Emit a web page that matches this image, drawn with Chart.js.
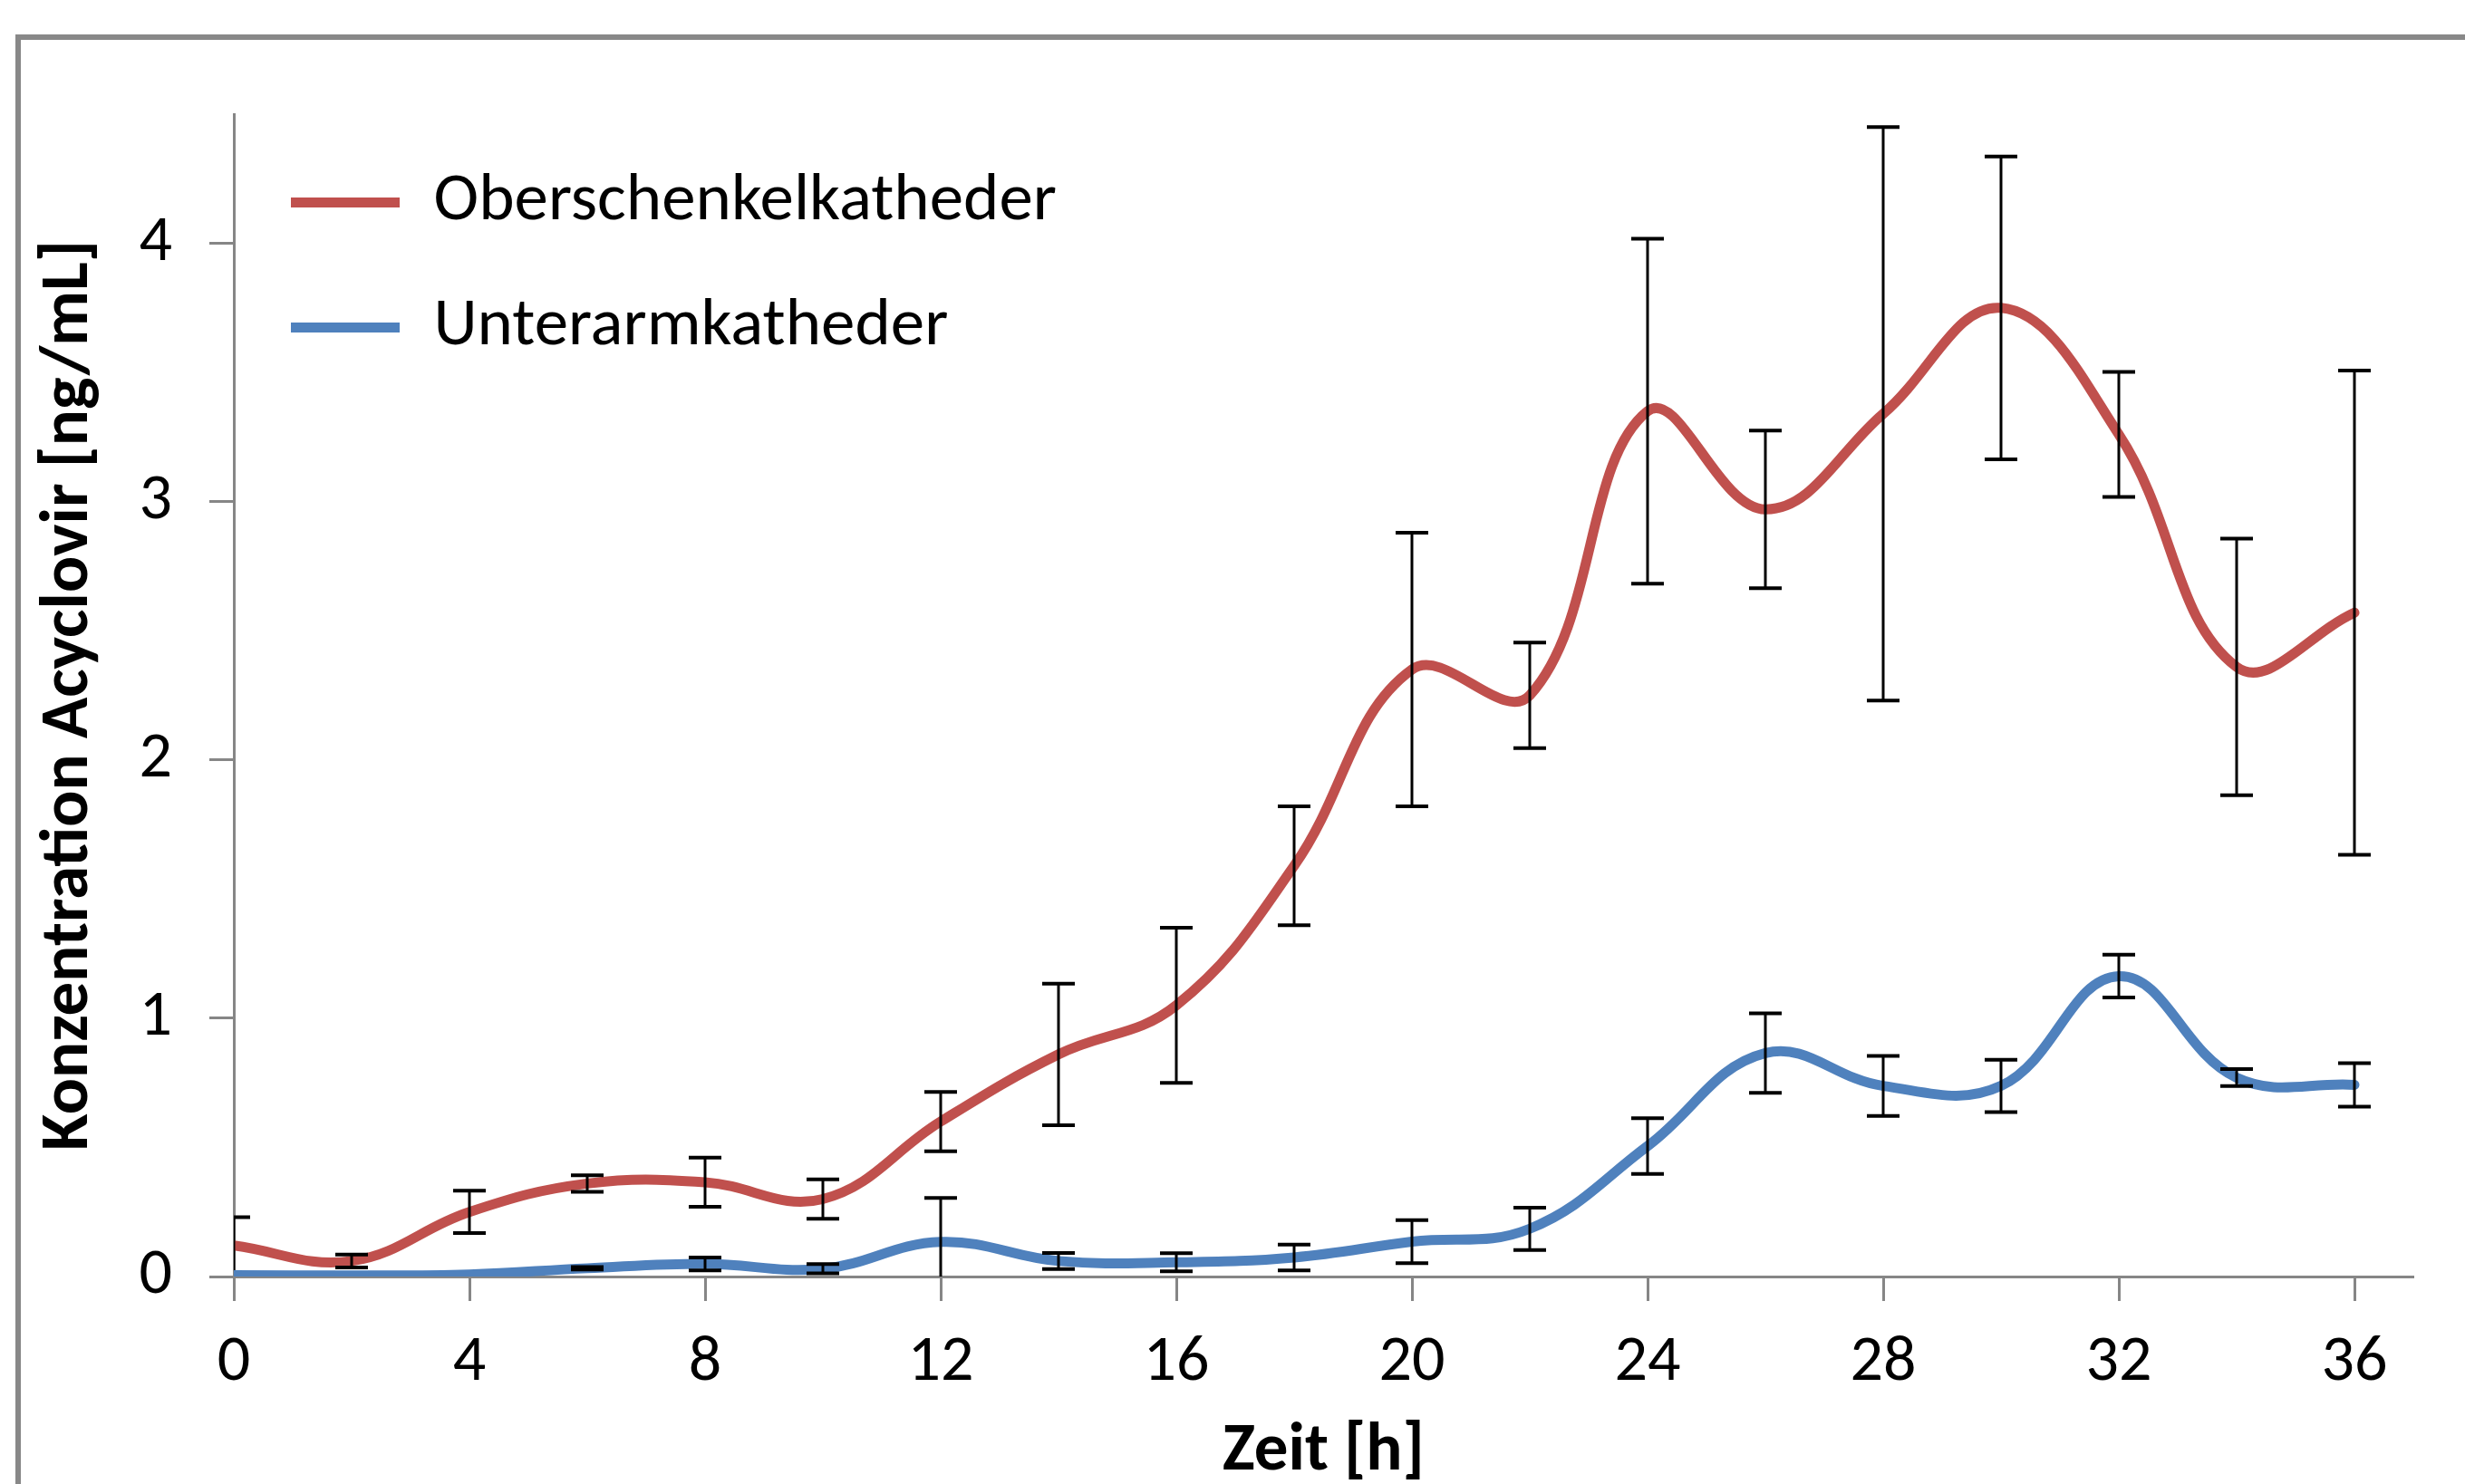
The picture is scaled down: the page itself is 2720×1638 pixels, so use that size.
<!DOCTYPE html>
<html>
<head>
<meta charset="utf-8">
<title>Konzentration Acyclovir</title>
<script src="https://cdn.jsdelivr.net/npm/chart.js@4.4.1/dist/chart.umd.min.js"></script>
<style>
  html, body { margin: 0; padding: 0; background: #fff; overflow: hidden; }
  #frame {
    position: absolute; left: 17px; top: 38px; width: 2800px; height: 1700px;
    border-left: 6px solid #888888; border-top: 6px solid #888888;
  }
  #wrap { position: absolute; left: 0; top: 0; width: 2720px; height: 1638px; }
</style>
</head>
<body>
<div id="frame"></div>
<div id="wrap"><canvas id="chart"></canvas></div>
<script>
// Zeit [h]
const zeit = [0, 2, 4, 6, 8, 10, 12, 14, 16, 18, 20, 22, 24, 26, 28, 30, 32, 34, 36];

// Mittelwerte und Standardabweichungen [ng/mL]
const oberschenkel = [0.12, 0.06, 0.25, 0.36, 0.365, 0.30, 0.60, 0.86, 1.05, 1.59, 2.35, 2.25, 3.35, 2.97, 3.34, 3.75, 3.26, 2.36, 2.57];
const oberschenkelSD = [0.11, 0.025, 0.082, 0.032, 0.095, 0.076, 0.115, 0.274, 0.30, 0.23, 0.53, 0.204, 0.668, 0.305, 1.11, 0.586, 0.242, 0.497, 0.937];
const unterarm = [0.005, 0.004, 0.008, 0.032, 0.049, 0.03, 0.134, 0.06, 0.055, 0.074, 0.135, 0.185, 0.505, 0.865, 0.738, 0.738, 1.163, 0.77, 0.742];
const unterarmSD = [0, 0, 0, 0.005, 0.025, 0.018, 0.17, 0.031, 0.035, 0.05, 0.083, 0.082, 0.108, 0.154, 0.116, 0.101, 0.083, 0.033, 0.084];

const xTicks = [0, 4, 8, 12, 16, 20, 24, 28, 32, 36];
const yTicks = [0, 1, 2, 3, 4];

const toPoints = (ys) => zeit.map((t, i) => ({ x: t, y: ys[i] }));

const axisGrey = '#868686';
const fontFamily = "Carlito, Calibri, 'Liberation Sans', Arial, sans-serif";

// error bars, drawn after each dataset through its own scales
const errorBars = {
  id: 'errorBars',
  afterDatasetDraw(chart, args) {
    const ds = chart.data.datasets[args.index];
    if (!ds.errors) return;
    const { ctx, chartArea } = chart;
    const xs = chart.scales.x, ys = chart.scales.y;
    ctx.save();
    ctx.beginPath();
    ctx.rect(chartArea.left, chartArea.top, chartArea.right - chartArea.left, chartArea.bottom - chartArea.top);
    ctx.clip();
    ctx.strokeStyle = '#000';
    ds.data.forEach((p, i) => {
      const e = ds.errors[i];
      if (!e) return;
      const px = xs.getPixelForValue(p.x);
      const top = ys.getPixelForValue(p.y + e);
      const bot = ys.getPixelForValue(p.y - e);
      ctx.lineWidth = 3;
      ctx.beginPath();
      ctx.moveTo(px, top);
      ctx.lineTo(px, bot);
      ctx.stroke();
      ctx.lineWidth = 4;
      ctx.beginPath();
      ctx.moveTo(px - 18, top);
      ctx.lineTo(px + 18, top);
      ctx.moveTo(px - 18, bot);
      ctx.lineTo(px + 18, bot);
      ctx.stroke();
    });
    ctx.restore();
  }
};

new Chart(document.getElementById('chart'), {
  type: 'line',
  data: {
    datasets: [
      {
        label: 'Oberschenkelkatheder',
        data: toPoints(oberschenkel),
        errors: oberschenkelSD,
        borderColor: '#C0504D',
        backgroundColor: '#C0504D',
        order: 2
      },
      {
        label: 'Unterarmkatheder',
        data: toPoints(unterarm),
        errors: unterarmSD,
        borderColor: '#4F81BD',
        backgroundColor: '#4F81BD',
        order: 1
      }
    ]
  },
  options: {
    responsive: true,
    maintainAspectRatio: false,
    animation: false,
    datasets: {
      line: {
        borderWidth: 11,
        tension: 0.4,
        pointRadius: 0,
        pointHoverRadius: 0,
        borderCapStyle: 'round',
        borderJoinStyle: 'round'
      }
    },
    layout: { padding: { left: 0, top: 126, right: 57, bottom: 0 } },
    plugins: {
      tooltip: { enabled: false },
      legend: {
        position: 'chartArea',
        align: 'start',
        // empty title only pushes the entries down inside the plot
        title: { display: true, text: '', padding: 0, font: { size: 123, lineHeight: 1 } },
        labels: {
          usePointStyle: true,
          pointStyle: 'line',
          pointStyleWidth: 120,
          padding: 63,
          color: '#000',
          font: { family: fontFamily, size: 75 },
          sort: (a, b) => a.datasetIndex - b.datasetIndex
        }
      }
    },
    scales: {
      x: {
        type: 'linear',
        min: 0,
        max: 37,
        afterBuildTicks: (scale) => { scale.ticks = xTicks.map(v => ({ value: v })); },
        afterFit: (scale) => { scale.height = 229; },
        grid: { drawOnChartArea: false, drawTicks: true, tickLength: 27, tickColor: axisGrey, tickWidth: 3 },
        border: { color: axisGrey, width: 3 },
        ticks: { color: '#000', padding: 26, font: { family: fontFamily, size: 72 } },
        title: {
          display: true,
          text: 'Zeit [h]',
          color: '#000',
          padding: { top: 0, bottom: -3 },
          font: { family: fontFamily, size: 75, weight: 'bold', lineHeight: 1 }
        }
      },
      y: {
        type: 'linear',
        min: 0,
        max: 4.5,
        afterBuildTicks: (scale) => { scale.ticks = yTicks.map(v => ({ value: v })); },
        afterFit: (scale) => { scale.width = 258; },
        grid: { drawOnChartArea: false, drawTicks: true, tickLength: 27, tickColor: axisGrey, tickWidth: 3 },
        border: { color: axisGrey, width: 3 },
        ticks: { color: '#000', padding: 41, font: { family: fontFamily, size: 72 } },
        title: {
          display: true,
          text: 'Konzentration Acyclovir [ng/mL]',
          color: '#000',
          padding: { top: 32, bottom: 0 },
          font: { family: fontFamily, size: 75, weight: 'bold' }
        }
      }
    }
  },
  plugins: [errorBars]
});
</script>
</body>
</html>
